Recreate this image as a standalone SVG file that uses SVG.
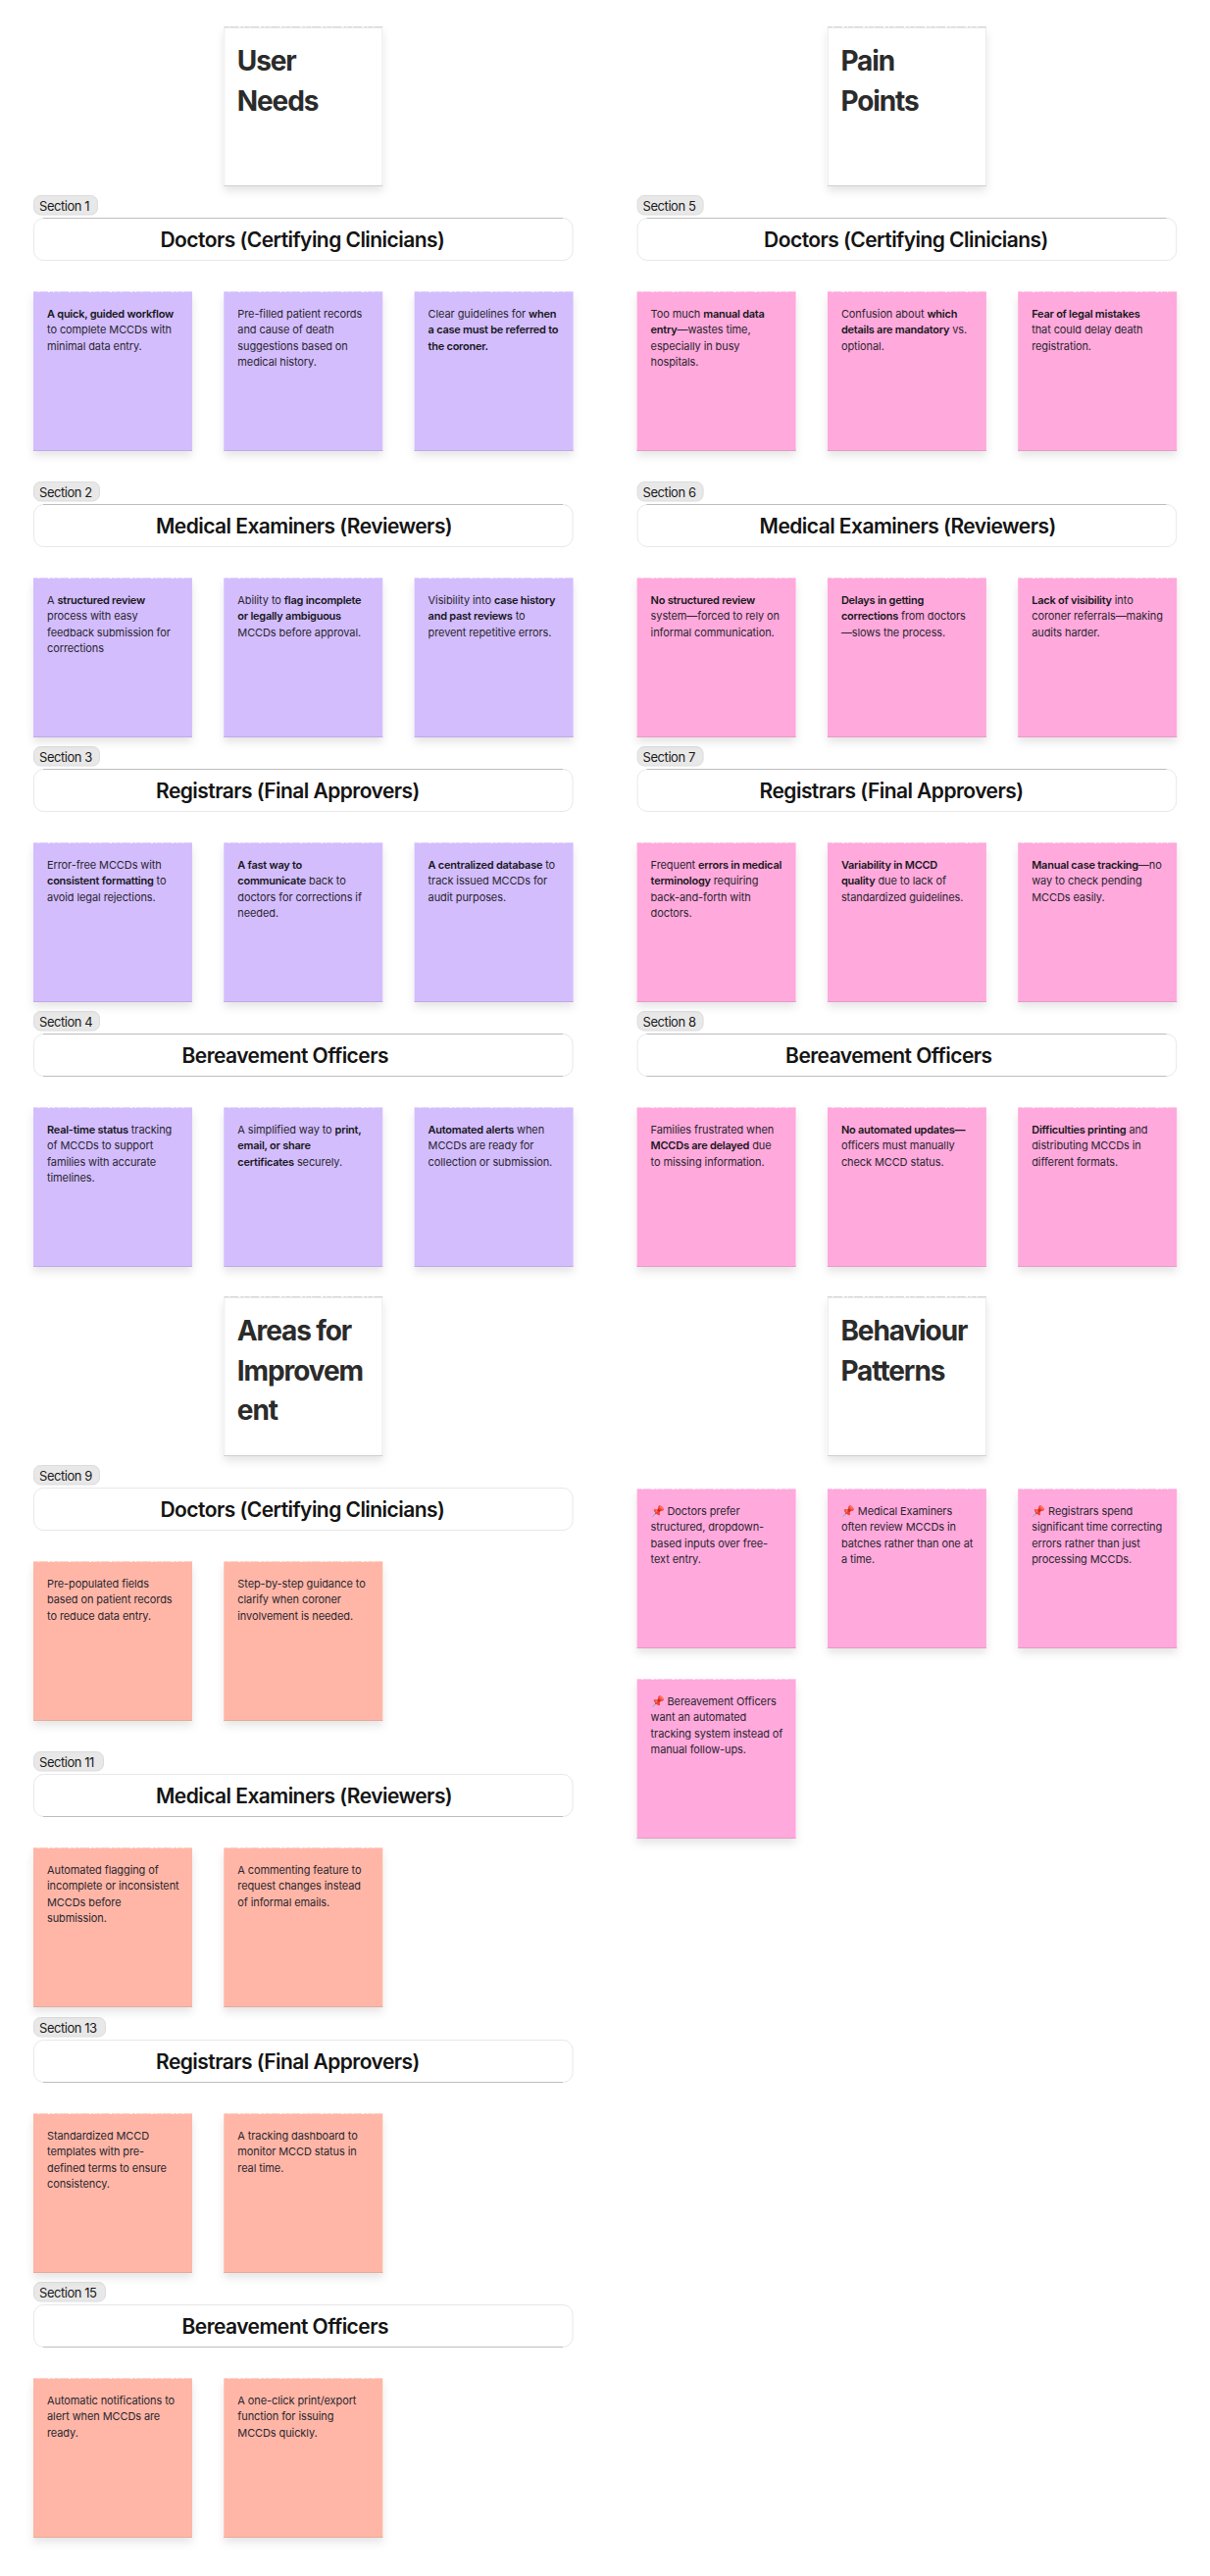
<svg xmlns="http://www.w3.org/2000/svg" width="1234" height="2627" viewBox="0 0 1234 2627">
<style>
text{font-family:Inter,"Noto Sans","Liberation Sans",sans-serif}
.t{font-size:11px;fill:#2a2630;letter-spacing:-.1px}
.b{font-weight:600;fill:#17171b;letter-spacing:-.25px}
.ttl{font-size:28px;font-weight:700;fill:#2b2b2b;letter-spacing:-1.1px}
.h{font-size:21px;font-weight:600;fill:#141414;letter-spacing:-.55px}
.s{font-size:13px;fill:#1a1a1a;letter-spacing:-.45px}
.tag{fill:#e8e8e8;stroke:#dcdcdc;stroke-width:1}
.top{stroke-width:1;stroke-dasharray:5 1 9 2 3 1;fill:none}
</style>
<defs>
<filter id="sh" x="-15%" y="-15%" width="130%" height="135%"><feDropShadow dx="0" dy="5" stdDeviation="4" flood-color="#000" flood-opacity="0.1"/></filter>
<g id="c-w"><rect width="162" height="162" fill="#fff" filter="url(#sh)"/><rect x=".5" y=".5" width="161" height="161" fill="#fff" stroke="#ececec"/><path d="M0 161.5H162" stroke="#cfcfcf"/><path d="M0 -.5H162" class="top" stroke="#d4d4d4"/></g>
<g id="c-p"><rect width="162" height="162" fill="#d3bdfd" filter="url(#sh)"/><path d="M0 161.5H162" stroke="#bfaae6"/><path d="M0 -.5H162" class="top" stroke="#e2d4fd"/></g>
<g id="c-k"><rect width="162" height="162" fill="#ffa9dc" filter="url(#sh)"/><path d="M0 161.5H162" stroke="#e59bc7"/><path d="M0 -.5H162" class="top" stroke="#ffc8e8"/></g>
<g id="c-o"><rect width="162" height="162" fill="#ffb6a6" filter="url(#sh)"/><path d="M0 161.5H162" stroke="#e6aa9c"/><path d="M0 -.5H162" class="top" stroke="#ffd0c5"/></g>
<g id="hb"><rect x=".5" y="23.5" width="549.6" height="43" rx="10" fill="#fff" stroke="#e8e8e8"/></g>
<path id="ht" d="M10 23.5H540" stroke="#bdbdbd" fill="none"/>
<path id="hu" d="M10 66.5H540" stroke="#bdbdbd" fill="none"/>
</defs>

<g id="title-user-needs" transform="translate(228.3 28)"><use href="#c-w"/><text class="ttl"><tspan x="13.5" y="44">User</tspan><tspan x="13.5" y="84.6">Needs</tspan></text></g>
<g id="title-pain-points" transform="translate(843.9 28)"><use href="#c-w"/><text class="ttl"><tspan x="13.5" y="44">Pain</tspan><tspan x="13.5" y="84.6">Points</tspan></text></g>
<g id="title-areas" transform="translate(228.3 1323)"><use href="#c-w"/><text class="ttl"><tspan x="13.5" y="44">Areas for</tspan><tspan x="13.5" y="84.6">Improvem</tspan><tspan x="13.5" y="125.2">ent</tspan></text></g>
<g id="title-behaviour" transform="translate(843.9 1323)"><use href="#c-w"/><text class="ttl"><tspan x="13.5" y="44">Behaviour</tspan><tspan x="13.5" y="84.6">Patterns</tspan></text></g>

<g id="section-1" transform="translate(34 199)"><use href="#hb"/><use href="#ht"/><rect class="tag" x=".5" y=".5" width="65" height="19.5" rx="7"/><text class="s" x="6" y="16">Section 1</text><text class="h" x="129.5" y="52.5">Doctors (Certifying Clinicians)</text></g>
<g id="section-2" transform="translate(34 491)"><use href="#hb"/><use href="#ht"/><rect class="tag" x=".5" y=".5" width="67" height="19.5" rx="7"/><text class="s" x="6" y="16">Section 2</text><text class="h" x="125" y="52.5">Medical Examiners (Reviewers)</text></g>
<g id="section-3" transform="translate(34 761)"><use href="#hb"/><use href="#ht"/><rect class="tag" x=".5" y=".5" width="67" height="19.5" rx="7"/><text class="s" x="6" y="16">Section 3</text><text class="h" x="125" y="52.5">Registrars (Final Approvers)</text></g>
<g id="section-4" transform="translate(34 1031)"><use href="#hb"/><use href="#ht"/><use href="#hu"/><rect class="tag" x=".5" y=".5" width="67" height="19.5" rx="7"/><text class="s" x="6" y="16">Section 4</text><text class="h" x="151.5" y="52.5">Bereavement Officers</text></g>
<g id="section-5" transform="translate(649.6 199)"><use href="#hb"/><use href="#ht"/><rect class="tag" x=".5" y=".5" width="67" height="19.5" rx="7"/><text class="s" x="6" y="16">Section 5</text><text class="h" x="129.5" y="52.5">Doctors (Certifying Clinicians)</text></g>
<g id="section-6" transform="translate(649.6 491)"><use href="#hb"/><use href="#ht"/><rect class="tag" x=".5" y=".5" width="67" height="19.5" rx="7"/><text class="s" x="6" y="16">Section 6</text><text class="h" x="125" y="52.5">Medical Examiners (Reviewers)</text></g>
<g id="section-7" transform="translate(649.6 761)"><use href="#hb"/><use href="#ht"/><rect class="tag" x=".5" y=".5" width="67" height="19.5" rx="7"/><text class="s" x="6" y="16">Section 7</text><text class="h" x="125" y="52.5">Registrars (Final Approvers)</text></g>
<g id="section-8" transform="translate(649.6 1031)"><use href="#hb"/><use href="#ht"/><use href="#hu"/><rect class="tag" x=".5" y=".5" width="67" height="19.5" rx="7"/><text class="s" x="6" y="16">Section 8</text><text class="h" x="151.5" y="52.5">Bereavement Officers</text></g>
<g id="section-9" transform="translate(34 1494)"><use href="#hb"/><rect class="tag" x=".5" y=".5" width="67" height="19.5" rx="7"/><text class="s" x="6" y="16">Section 9</text><text class="h" x="129.5" y="52.5">Doctors (Certifying Clinicians)</text></g>
<g id="section-11" transform="translate(34 1786)"><use href="#hb"/><use href="#hu"/><rect class="tag" x=".5" y=".5" width="71" height="19.5" rx="7"/><text class="s" x="6" y="16">Section 11</text><text class="h" x="125" y="52.5">Medical Examiners (Reviewers)</text></g>
<g id="section-13" transform="translate(34 2057)"><use href="#hb"/><use href="#hu"/><rect class="tag" x=".5" y=".5" width="73" height="19.5" rx="7"/><text class="s" x="6" y="16">Section 13</text><text class="h" x="125" y="52.5">Registrars (Final Approvers)</text></g>
<g id="section-15" transform="translate(34 2327)"><use href="#hb"/><use href="#hu"/><rect class="tag" x=".5" y=".5" width="73" height="19.5" rx="7"/><text class="s" x="6" y="16">Section 15</text><text class="h" x="151.5" y="52.5">Bereavement Officers</text></g>

<g id="n1-1" transform="translate(34 298)"><use href="#c-p"/><text class="t"><tspan x="14" y="26" class="b">A quick, guided workflow</tspan><tspan x="14" y="42.3">to complete MCCDs with</tspan><tspan x="14" y="58.6">minimal data entry.</tspan></text></g>
<g id="n1-2" transform="translate(228.3 298)"><use href="#c-p"/><text class="t"><tspan x="14" y="26">Pre-filled patient records</tspan><tspan x="14" y="42.3">and cause of death</tspan><tspan x="14" y="58.6">suggestions based on</tspan><tspan x="14" y="74.9">medical history.</tspan></text></g>
<g id="n1-3" transform="translate(422.6 298)"><use href="#c-p"/><text class="t"><tspan x="14" y="26">Clear guidelines for <tspan class="b">when</tspan></tspan><tspan x="14" y="42.3" class="b">a case must be referred to</tspan><tspan x="14" y="58.6" class="b">the coroner.</tspan></text></g>

<g id="n2-1" transform="translate(34 590)"><use href="#c-p"/><text class="t"><tspan x="14" y="26">A <tspan class="b">structured review</tspan></tspan><tspan x="14" y="42.3">process with easy</tspan><tspan x="14" y="58.6">feedback submission for</tspan><tspan x="14" y="74.9">corrections</tspan></text></g>
<g id="n2-2" transform="translate(228.3 590)"><use href="#c-p"/><text class="t"><tspan x="14" y="26">Ability to <tspan class="b">flag incomplete</tspan></tspan><tspan x="14" y="42.3" class="b">or legally ambiguous</tspan><tspan x="14" y="58.6">MCCDs before approval.</tspan></text></g>
<g id="n2-3" transform="translate(422.6 590)"><use href="#c-p"/><text class="t"><tspan x="14" y="26">Visibility into <tspan class="b">case history</tspan></tspan><tspan x="14" y="42.3"><tspan class="b">and past reviews</tspan> to</tspan><tspan x="14" y="58.6">prevent repetitive errors.</tspan></text></g>

<g id="n3-1" transform="translate(34 860)"><use href="#c-p"/><text class="t"><tspan x="14" y="26">Error-free MCCDs with</tspan><tspan x="14" y="42.3"><tspan class="b">consistent formatting</tspan> to</tspan><tspan x="14" y="58.6">avoid legal rejections.</tspan></text></g>
<g id="n3-2" transform="translate(228.3 860)"><use href="#c-p"/><text class="t"><tspan x="14" y="26" class="b">A fast way to</tspan><tspan x="14" y="42.3"><tspan class="b">communicate</tspan> back to</tspan><tspan x="14" y="58.6">doctors for corrections if</tspan><tspan x="14" y="74.9">needed.</tspan></text></g>
<g id="n3-3" transform="translate(422.6 860)"><use href="#c-p"/><text class="t"><tspan x="14" y="26"><tspan class="b">A centralized database</tspan> to</tspan><tspan x="14" y="42.3">track issued MCCDs for</tspan><tspan x="14" y="58.6">audit purposes.</tspan></text></g>

<g id="n4-1" transform="translate(34 1130)"><use href="#c-p"/><text class="t"><tspan x="14" y="26"><tspan class="b">Real-time status</tspan> tracking</tspan><tspan x="14" y="42.3">of MCCDs to support</tspan><tspan x="14" y="58.6">families with accurate</tspan><tspan x="14" y="74.9">timelines.</tspan></text></g>
<g id="n4-2" transform="translate(228.3 1130)"><use href="#c-p"/><text class="t"><tspan x="14" y="26">A simplified way to <tspan class="b">print,</tspan></tspan><tspan x="14" y="42.3" class="b">email, or share</tspan><tspan x="14" y="58.6"><tspan class="b">certificates</tspan> securely.</tspan></text></g>
<g id="n4-3" transform="translate(422.6 1130)"><use href="#c-p"/><text class="t"><tspan x="14" y="26"><tspan class="b">Automated alerts</tspan> when</tspan><tspan x="14" y="42.3">MCCDs are ready for</tspan><tspan x="14" y="58.6">collection or submission.</tspan></text></g>

<g id="n5-1" transform="translate(649.6 298)"><use href="#c-k"/><text class="t"><tspan x="14" y="26">Too much <tspan class="b">manual data</tspan></tspan><tspan x="14" y="42.3"><tspan class="b">entry</tspan>—wastes time,</tspan><tspan x="14" y="58.6">especially in busy</tspan><tspan x="14" y="74.9">hospitals.</tspan></text></g>
<g id="n5-2" transform="translate(843.9 298)"><use href="#c-k"/><text class="t"><tspan x="14" y="26">Confusion about <tspan class="b">which</tspan></tspan><tspan x="14" y="42.3"><tspan class="b">details are mandatory</tspan> vs.</tspan><tspan x="14" y="58.6">optional.</tspan></text></g>
<g id="n5-3" transform="translate(1038.2 298)"><use href="#c-k"/><text class="t"><tspan x="14" y="26" class="b">Fear of legal mistakes</tspan><tspan x="14" y="42.3">that could delay death</tspan><tspan x="14" y="58.6">registration.</tspan></text></g>

<g id="n6-1" transform="translate(649.6 590)"><use href="#c-k"/><text class="t"><tspan x="14" y="26" class="b">No structured review</tspan><tspan x="14" y="42.3">system—forced to rely on</tspan><tspan x="14" y="58.6">informal communication.</tspan></text></g>
<g id="n6-2" transform="translate(843.9 590)"><use href="#c-k"/><text class="t"><tspan x="14" y="26" class="b">Delays in getting</tspan><tspan x="14" y="42.3"><tspan class="b">corrections</tspan> from doctors</tspan><tspan x="14" y="58.6">—slows the process.</tspan></text></g>
<g id="n6-3" transform="translate(1038.2 590)"><use href="#c-k"/><text class="t"><tspan x="14" y="26"><tspan class="b">Lack of visibility</tspan> into</tspan><tspan x="14" y="42.3">coroner referrals—making</tspan><tspan x="14" y="58.6">audits harder.</tspan></text></g>

<g id="n7-1" transform="translate(649.6 860)"><use href="#c-k"/><text class="t"><tspan x="14" y="26">Frequent <tspan class="b">errors in medical</tspan></tspan><tspan x="14" y="42.3"><tspan class="b">terminology</tspan> requiring</tspan><tspan x="14" y="58.6">back-and-forth with</tspan><tspan x="14" y="74.9">doctors.</tspan></text></g>
<g id="n7-2" transform="translate(843.9 860)"><use href="#c-k"/><text class="t"><tspan x="14" y="26" class="b">Variability in MCCD</tspan><tspan x="14" y="42.3"><tspan class="b">quality</tspan> due to lack of</tspan><tspan x="14" y="58.6">standardized guidelines.</tspan></text></g>
<g id="n7-3" transform="translate(1038.2 860)"><use href="#c-k"/><text class="t"><tspan x="14" y="26"><tspan class="b">Manual case tracking</tspan>—no</tspan><tspan x="14" y="42.3">way to check pending</tspan><tspan x="14" y="58.6">MCCDs easily.</tspan></text></g>

<g id="n8-1" transform="translate(649.6 1130)"><use href="#c-k"/><text class="t"><tspan x="14" y="26">Families frustrated when</tspan><tspan x="14" y="42.3"><tspan class="b">MCCDs are delayed</tspan> due</tspan><tspan x="14" y="58.6">to missing information.</tspan></text></g>
<g id="n8-2" transform="translate(843.9 1130)"><use href="#c-k"/><text class="t"><tspan x="14" y="26" class="b">No automated updates—</tspan><tspan x="14" y="42.3">officers must manually</tspan><tspan x="14" y="58.6">check MCCD status.</tspan></text></g>
<g id="n8-3" transform="translate(1038.2 1130)"><use href="#c-k"/><text class="t"><tspan x="14" y="26"><tspan class="b">Difficulties printing</tspan> and</tspan><tspan x="14" y="42.3">distributing MCCDs in</tspan><tspan x="14" y="58.6">different formats.</tspan></text></g>

<g id="n9-1" transform="translate(34 1593)"><use href="#c-o"/><text class="t"><tspan x="14" y="26">Pre-populated fields</tspan><tspan x="14" y="42.3">based on patient records</tspan><tspan x="14" y="58.6">to reduce data entry.</tspan></text></g>
<g id="n9-2" transform="translate(228.3 1593)"><use href="#c-o"/><text class="t"><tspan x="14" y="26">Step-by-step guidance to</tspan><tspan x="14" y="42.3">clarify when coroner</tspan><tspan x="14" y="58.6">involvement is needed.</tspan></text></g>
<g id="n11-1" transform="translate(34 1885)"><use href="#c-o"/><text class="t"><tspan x="14" y="26">Automated flagging of</tspan><tspan x="14" y="42.3">incomplete or inconsistent</tspan><tspan x="14" y="58.6">MCCDs before</tspan><tspan x="14" y="74.9">submission.</tspan></text></g>
<g id="n11-2" transform="translate(228.3 1885)"><use href="#c-o"/><text class="t"><tspan x="14" y="26">A commenting feature to</tspan><tspan x="14" y="42.3">request changes instead</tspan><tspan x="14" y="58.6">of informal emails.</tspan></text></g>
<g id="n13-1" transform="translate(34 2156)"><use href="#c-o"/><text class="t"><tspan x="14" y="26">Standardized MCCD</tspan><tspan x="14" y="42.3">templates with pre-</tspan><tspan x="14" y="58.6">defined terms to ensure</tspan><tspan x="14" y="74.9">consistency.</tspan></text></g>
<g id="n13-2" transform="translate(228.3 2156)"><use href="#c-o"/><text class="t"><tspan x="14" y="26">A tracking dashboard to</tspan><tspan x="14" y="42.3">monitor MCCD status in</tspan><tspan x="14" y="58.6">real time.</tspan></text></g>
<g id="n15-1" transform="translate(34 2426)"><use href="#c-o"/><text class="t"><tspan x="14" y="26">Automatic notifications to</tspan><tspan x="14" y="42.3">alert when MCCDs are</tspan><tspan x="14" y="58.6">ready.</tspan></text></g>
<g id="n15-2" transform="translate(228.3 2426)"><use href="#c-o"/><text class="t"><tspan x="14" y="26">A one-click print/export</tspan><tspan x="14" y="42.3">function for issuing</tspan><tspan x="14" y="58.6">MCCDs quickly.</tspan></text></g>

<g id="b-1" transform="translate(649.6 1519)"><use href="#c-k"/><text class="t"><tspan x="14" y="26">📌 Doctors prefer</tspan><tspan x="14" y="42.3">structured, dropdown-</tspan><tspan x="14" y="58.6">based inputs over free-</tspan><tspan x="14" y="74.9">text entry.</tspan></text></g>
<g id="b-2" transform="translate(843.9 1519)"><use href="#c-k"/><text class="t"><tspan x="14" y="26">📌 Medical Examiners</tspan><tspan x="14" y="42.3">often review MCCDs in</tspan><tspan x="14" y="58.6">batches rather than one at</tspan><tspan x="14" y="74.9">a time.</tspan></text></g>
<g id="b-3" transform="translate(1038.2 1519)"><use href="#c-k"/><text class="t"><tspan x="14" y="26">📌 Registrars spend</tspan><tspan x="14" y="42.3">significant time correcting</tspan><tspan x="14" y="58.6">errors rather than just</tspan><tspan x="14" y="74.9">processing MCCDs.</tspan></text></g>
<g id="b-4" transform="translate(649.6 1713)"><use href="#c-k"/><text class="t"><tspan x="14" y="26">📌 Bereavement Officers</tspan><tspan x="14" y="42.3">want an automated</tspan><tspan x="14" y="58.6">tracking system instead of</tspan><tspan x="14" y="74.9">manual follow-ups.</tspan></text></g>
</svg>
